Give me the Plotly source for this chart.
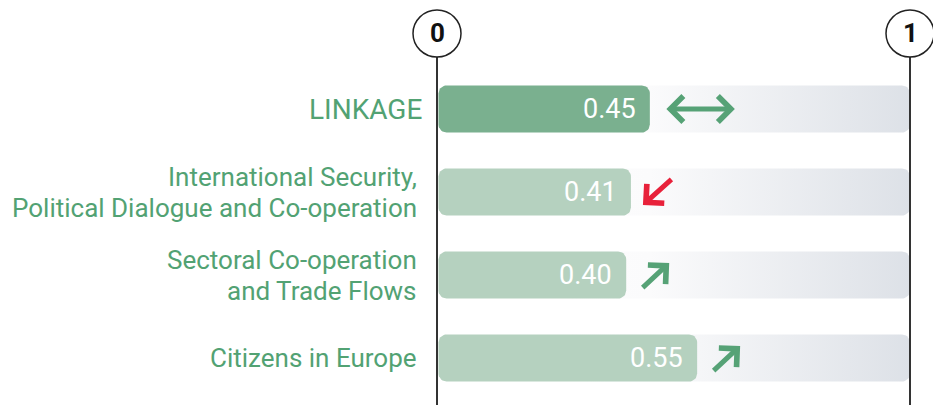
import numpy as np
import plotly.graph_objects as go

# ---------------- data ----------------
categories = [
    "LINKAGE",
    "International Security,<br>Political Dialogue and Co-operation",
    "Sectoral Co-operation<br>and Trade Flows",
    "Citizens in Europe",
]
values = [0.45, 0.41, 0.40, 0.55]
value_labels = ["0.45", "0.41", "0.40", "0.55"]
trends = ["stable", "down", "up", "up"]
axis_ticks = [0, 1]
axis_tick_labels = ["0", "1"]

# ---------------- layout constants ----------------
W, H = 933, 405
X0_PX, PX_PER_UNIT = 437, 473          # pixel of value 0, pixels per unit
ROW0_PX, ROW_STEP = 109, 83            # pixel centre of first row, row spacing
BAR_H_PX = 47
RADIUS_PX = 8
GAP_PX = 1.5
LINE_H_PX = 31

x_range = [-X0_PX / PX_PER_UNIT, (W - X0_PX) / PX_PER_UNIT]
y_range = [(H - ROW0_PX) / ROW_STEP, -ROW0_PX / ROW_STEP]

FONT = "Roboto, 'Open Sans', sans-serif"
LABEL_GREEN = "#52a273"
ARROW_GREEN = "#56a276"
RED = "#e8213a"
DARK_BAR = "#7ab08f"
LIGHT_BAR = "#b5d1bf"


def rounded_rect(x0, x1, yc):
    """Rounded rectangle outline in data units (radius given in pixels)."""
    rx = RADIUS_PX / PX_PER_UNIT
    ry = RADIUS_PX / ROW_STEP
    half = BAR_H_PX / 2 / ROW_STEP
    y0, y1 = yc - half, yc + half
    xs, ys = [], []
    n = 10
    corners = [
        (x1 - rx, y0 + ry, -np.pi / 2, 0),
        (x1 - rx, y1 - ry, 0, np.pi / 2),
        (x0 + rx, y1 - ry, np.pi / 2, np.pi),
        (x0 + rx, y0 + ry, np.pi, 1.5 * np.pi),
    ]
    for cx, cy, a0, a1 in corners:
        t = np.linspace(a0, a1, n)
        xs.extend(cx + rx * np.cos(t))
        ys.extend(cy + ry * np.sin(t))
    xs.append(xs[0])
    ys.append(ys[0])
    return xs, ys


fig = go.Figure()

# background tracks (0 -> 1) with gradient
for i, cat in enumerate(categories):
    xs, ys = rounded_rect(axis_ticks[0], axis_ticks[-1], i)
    fig.add_trace(go.Scatter(
        x=xs, y=ys, mode="lines", fill="toself", line=dict(width=0),
        fillgradient=dict(type="horizontal",
                          colorscale=[[0, "#ffffff"], [0.45, "#fbfbfc"], [1, "#dde1e7"]]),
        hoverinfo="skip", showlegend=False,
    ))

# value bars
for i, (cat, v, lab) in enumerate(zip(categories, values, value_labels)):
    xs, ys = rounded_rect(GAP_PX / PX_PER_UNIT, v, i)
    fig.add_trace(go.Scatter(
        x=xs, y=ys, mode="lines", fill="toself", line=dict(width=0),
        fillcolor=DARK_BAR if i == 0 else LIGHT_BAR,
        hoveron="fills", name=cat.replace("<br>", " "), text=lab,
        hoverinfo="text+name", showlegend=False,
    ))

annotations = []
shapes = []

# category labels + value labels + trend arrows
for i, (cat, v, lab, tr) in enumerate(zip(categories, values, value_labels, trends)):
    lines = cat.split("<br>")
    nlines = len(lines)
    for k, line in enumerate(lines):
        annotations.append(dict(
            x=0, y=i, xref="x", yref="y", text=line, showarrow=False,
            xanchor="right", yanchor="middle", align="right",
            xshift=-13 if i == 0 else -18,
            yshift=((nlines - 1) / 2 - k) * LINE_H_PX,
            font=dict(family=FONT, size=28 if i == 0 else 26, color=LABEL_GREEN),
        ))
    annotations.append(dict(
        x=v, y=i, xref="x", yref="y", text=lab, showarrow=False,
        xanchor="right", yanchor="middle", xshift=-12,
        font=dict(family=FONT, size=27, color="white"),
    ))
    if tr == "stable":
        annotations.append(dict(
            x=v, y=i, xref="x", yref="y", text="", showarrow=True,
            ax=-70, ay=0, xshift=85, arrowside="end+start",
            arrowhead=4, startarrowhead=4, arrowsize=1, startarrowsize=1,
            arrowwidth=5, arrowcolor=ARROW_GREEN,
        ))
    elif tr == "up":
        annotations.append(dict(
            x=v, y=i, xref="x", yref="y", text="", showarrow=True,
            ax=-28, ay=26, xshift=43, yshift=12,
            arrowhead=4, arrowsize=1, arrowwidth=5, arrowcolor=ARROW_GREEN,
        ))
    else:
        annotations.append(dict(
            x=v, y=i, xref="x", yref="y", text="", showarrow=True,
            ax=30, ay=-27, xshift=12, yshift=-13,
            arrowhead=4, arrowsize=1, arrowwidth=5, arrowcolor=RED,
        ))

# scale lines and circled tick labels
for t, tl in zip(axis_ticks, axis_tick_labels):
    shapes.append(dict(
        type="line", xref="x", yref="paper", x0=t, x1=t, y0=0, y1=1 - 57 / H,
        line=dict(color="#333333", width=2), layer="above",
    ))
    shapes.append(dict(
        type="circle", xref="x", yref="paper", xsizemode="pixel", ysizemode="pixel",
        xanchor=t, yanchor=1, x0=-24, x1=24, y0=-57, y1=-10,
        line=dict(color="#222222", width=1.5), fillcolor="white", layer="above",
    ))
    annotations.append(dict(
        x=t, y=1, xref="x", yref="paper", text=f"<b>{tl}</b>", showarrow=False,
        xanchor="center", yanchor="middle", yshift=-33,
        font=dict(family=FONT, size=26, color="#111111"),
    ))

fig.update_layout(
    width=W, height=H, margin=dict(l=0, r=0, t=0, b=0),
    paper_bgcolor="white", plot_bgcolor="white",
    xaxis=dict(range=x_range, visible=False, fixedrange=True),
    yaxis=dict(range=y_range, visible=False, fixedrange=True),
    annotations=annotations, shapes=shapes, showlegend=False,
)

fig.write_html(
    "out.html",
    config={"displayModeBar": False},
    post_script="document.body.style.margin='0';document.body.style.overflow='hidden';",
)
